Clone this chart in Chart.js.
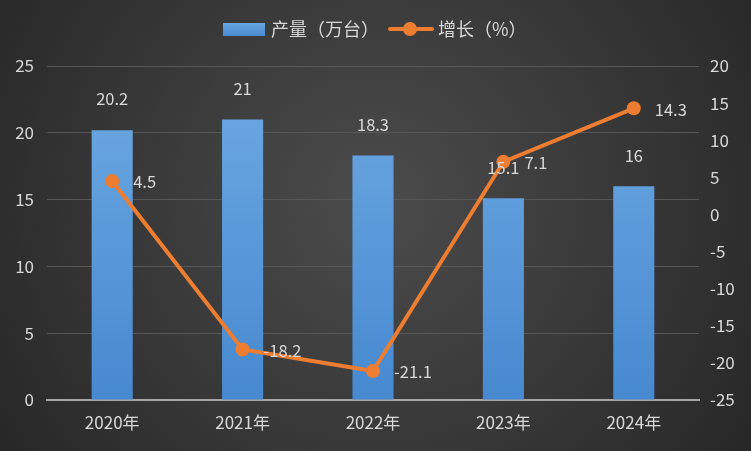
<!DOCTYPE html>
<html><head><meta charset="utf-8">
<script src="https://cdn.jsdelivr.net/npm/chart.js@4/dist/chart.umd.min.js"></script>
<style>html,body{margin:0;padding:0;background:#333}#wrap{width:751px;height:451px}</style>
</head><body><div id="wrap"><canvas id="c" width="751" height="451"></canvas></div>
<script>
const categories = ["2020年","2021年","2022年","2023年","2024年"];
const production = [20.2, 21, 18.3, 15.1, 16];
const growth = [4.5, -18.2, -21.1, 7.1, 14.3];
const seriesNames = ["产量（万台）", "增长（%）"];

const FONT = '"Noto Sans CJK SC", "Noto Sans", sans-serif';
const TXT = '#d9d9d9';

const bgPlugin = {
  id: 'bg',
  beforeDraw(chart) {
    const ctx = chart.ctx, w = chart.width, h = chart.height;
    const g = ctx.createRadialGradient(w/2, h*0.45, 20, w/2, h*0.45, w*0.62);
    g.addColorStop(0, '#4a4a4a');
    g.addColorStop(1, '#262626');
    ctx.save(); ctx.fillStyle = g; ctx.fillRect(0,0,w,h); ctx.restore();
  }
};

const labelPlugin = {
  id: 'labels',
  afterDatasetsDraw(chart) {
    const ctx = chart.ctx;
    ctx.save();
    ctx.font = '16.5px ' + FONT;
    ctx.fillStyle = TXT;
    const mBar = chart.getDatasetMeta(1);
    mBar.data.forEach((el, i) => {
      ctx.textAlign = 'center'; ctx.textBaseline = 'middle';
      ctx.fillText(String(production[i]), el.x, el.y - 31);
    });
    const mLine = chart.getDatasetMeta(0);
    mLine.data.forEach((el, i) => {
      ctx.textAlign = 'left'; ctx.textBaseline = 'middle';
      ctx.fillText(String(growth[i]), el.x + 21, el.y + 1);
    });
    ctx.restore();
  }
};

const legendPlugin = {
  id: 'customLegend',
  afterDraw(chart) {
    const ctx = chart.ctx;
    ctx.save();
    const y = 29;
    const g = ctx.createLinearGradient(0, 22, 0, 36);
    g.addColorStop(0, '#6aa7e2'); g.addColorStop(1, '#4a8bd2');
    ctx.fillStyle = g;
    ctx.fillRect(223, 23, 42, 13);
    ctx.font = '18px ' + FONT;
    ctx.fillStyle = TXT;
    ctx.textAlign = 'left'; ctx.textBaseline = 'middle';
    ctx.fillText(seriesNames[0], 271, y);
    ctx.strokeStyle = '#ed7d31'; ctx.lineWidth = 4; ctx.lineCap = 'round';
    ctx.beginPath(); ctx.moveTo(390, y); ctx.lineTo(432, y); ctx.stroke();
    ctx.fillStyle = '#ed7d31';
    ctx.beginPath(); ctx.arc(410, y, 7, 0, Math.PI*2); ctx.fill();
    ctx.fillStyle = TXT;
    ctx.fillText(seriesNames[1], 438, y);
    ctx.restore();
  }
};

const ctx = document.getElementById('c').getContext('2d');
const barGrad = (context) => {
  const chart = context.chart;
  const {chartArea} = chart;
  if (!chartArea) return '#5b9bd5';
  const g = chart.ctx.createLinearGradient(0, chartArea.top, 0, chartArea.bottom);
  g.addColorStop(0, '#6eaae3');
  g.addColorStop(1, '#4789d0');
  return g;
};

new Chart(ctx, {
  data: {
    labels: categories,
    datasets: [
      {
        type: 'line', label: seriesNames[1], data: growth, yAxisID: 'y1',
        borderColor: '#ed7d31', backgroundColor: '#ed7d31', borderWidth: 4,
        pointRadius: 7, pointHoverRadius: 7, pointBackgroundColor: '#ed7d31',
        pointBorderWidth: 0, tension: 0, order: 0
      },
      {
        type: 'bar', label: seriesNames[0], data: production, yAxisID: 'y',
        backgroundColor: barGrad, barPercentage: 0.315, categoryPercentage: 1, order: 1
      }
    ]
  },
  options: {
    responsive: false, animation: false,
    layout: { padding: { top: 66, left: 0, right: 0, bottom: 0 } },
    plugins: { legend: { display: false }, tooltip: { enabled: false } },
    scales: {
      x: {
        grid: { display: false, drawTicks: false },
        border: { display: true, color: '#a6a6a6', width: 2 },
        ticks: { color: TXT, font: { size: 17, family: FONT }, padding: 12 },
        afterFit(s) { s.height = 51; }
      },
      y: {
        position: 'left', min: 0, max: 25,
        ticks: { stepSize: 5, color: TXT, font: { size: 17, family: FONT }, padding: 13 },
        grid: { color: '#575757', lineWidth: 1, drawTicks: false },
        border: { display: false },
        afterFit(s) { s.width = 47; }
      },
      y1: {
        position: 'right', min: -25, max: 20,
        ticks: { stepSize: 5, color: TXT, font: { size: 17, family: FONT }, padding: 11 },
        grid: { display: false, drawTicks: false },
        border: { display: false },
        afterFit(s) { s.width = 52; }
      }
    }
  },
  plugins: [bgPlugin, labelPlugin, legendPlugin]
});
</script></body></html>
